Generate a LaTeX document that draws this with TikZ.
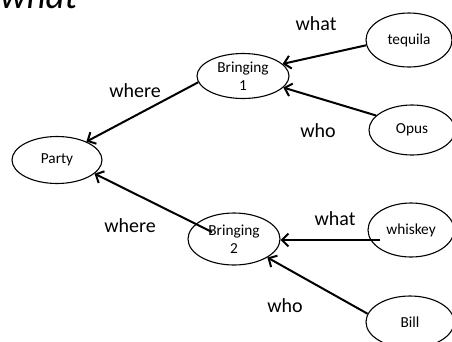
\documentclass[tikz,border=0pt]{standalone}
\usepackage{fontspec}
\setmainfont{Carlito}
\usetikzlibrary{arrows.meta,shapes.geometric}
\begin{document}
\begin{tikzpicture}[
  x=1pt, y=-1pt,
  ent/.style={draw, ellipse, line width=1.1pt, inner sep=0pt, align=center, font=\fontsize{15.3}{17.5}\selectfont},
  arr/.style={-{Straight Barb[length=6.5pt,width=13pt]}, line width=2pt},
  lbl/.style={anchor=base, inner sep=0pt, font=\fontsize{20}{24}\selectfont},
]
\useasboundingbox (0,0) rectangle (452,341);

% --- title ---
\node[anchor=base west, inner sep=0pt, font=\fontsize{37}{44}\selectfont\itshape] (title) at (0,8) {what};

% --- events ---
\node[ent, minimum width=90pt, minimum height=47pt] (party) at (57,160) {Party};
\node[ent, minimum width=92pt, minimum height=45pt] (b1) at (243,76) {Bringing\\1};
\node[ent, minimum width=92pt, minimum height=52pt] (b2) at (234,239) {Bringing\\2};

% --- fillers ---
\node[ent, minimum width=86pt, minimum height=54pt] (tequila) at (409,40) {tequila};
\node[ent, minimum width=86pt, minimum height=50pt] (opus) at (412,130) {Opus};
\node[ent, minimum width=86pt, minimum height=54pt] (whiskey) at (411,230) {whiskey};
\node[ent, minimum width=88pt, minimum height=52pt] (bill) at (410,322) {Bill};

% --- roles ---
\coordinate (wstart) at ([shift={(-31,10)}]whiskey.center);
\coordinate (bstart) at ([shift={(-22,-7)}]b2.center);
\draw[arr] (tequila.187) -- (b1.17);
\draw[arr] (opus.158) -- (b1.344);
\draw[arr] (b1.188) -- (party.32);
\draw[arr] (wstart) -- (wstart -| b2.east);
\draw[arr] (bill.169) -- (b2.331);
\draw[arr] (bstart) -- (party.340);

\node[lbl] (what1) at (316,30) {what};
\node[lbl] (who1) at (318,137) {who};
\node[lbl] (where1) at (135,97) {where};
\node[lbl] (where2) at (130,232) {where};
\node[lbl] (what2) at (335,225) {what};
\node[lbl] (who2) at (285,312) {who};

\end{tikzpicture}
\end{document}
